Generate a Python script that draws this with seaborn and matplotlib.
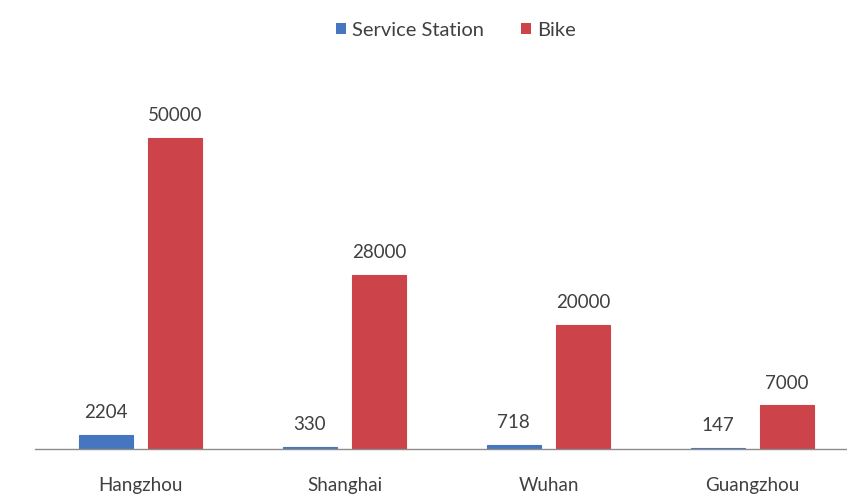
import matplotlib
matplotlib.use("Agg")
import matplotlib.pyplot as plt
import seaborn as sns
import pandas as pd
from matplotlib.patches import Patch

cities = ["Hangzhou", "Shanghai", "Wuhan", "Guangzhou"]
stations = [2204, 330, 718, 147]
bikes = [50000, 28000, 20000, 7000]
series = ["Service Station", "Bike"]
colors = {"Service Station": "#4676C0", "Bike": "#CC4449"}

df = pd.DataFrame({
    "City": cities * 2,
    "Series": [series[0]] * len(cities) + [series[1]] * len(cities),
    "Value": stations + bikes,
})

sns.set_theme(style="white")
plt.rcParams["font.family"] = ["Lato", "DejaVu Sans"]

fig = plt.figure(figsize=(8.47, 4.97), dpi=100)
ax = fig.add_axes([35 / 847, (497 - 449) / 497, 812 / 847, 389 / 497])

sns.barplot(data=df, x="City", y="Value", hue="Series", order=cities,
            hue_order=series, palette=colors, width=0.68, gap=0.22,
            saturation=1, legend=False, ax=ax)

# thin outline so the smallest bars stay visible on the baseline
for container in ax.containers:
    for bar in container:
        bar.set_edgecolor(bar.get_facecolor())
        bar.set_linewidth(0.8)

ax.set_xlim(-0.517, 3.463)
ax.set_ylim(0, 62500)
ax.set_xlabel("")
ax.set_ylabel("")
ax.set_yticks([])
for side in ["top", "right", "left"]:
    ax.spines[side].set_visible(False)
ax.spines["bottom"].set_color("#8c8c8c")
ax.spines["bottom"].set_linewidth(1.0)
ax.tick_params(axis="x", length=0, pad=20, labelsize=13.5, colors="#404040")

for container in ax.containers:
    ax.bar_label(container, fmt="%d", padding=10, fontsize=13.5, color="#404040")

handles = [Patch(facecolor=colors[s], edgecolor="none", label=s) for s in series]
fig.legend(handles=handles, loc="center", bbox_to_anchor=(456 / 847, 1 - 30 / 497),
           ncol=2, frameon=False, fontsize=14.5, handlelength=0.5, handleheight=0.5,
           handletextpad=0.3, columnspacing=1.8, labelcolor="#404040")

fig.savefig("out.png", dpi=100, facecolor="white")
